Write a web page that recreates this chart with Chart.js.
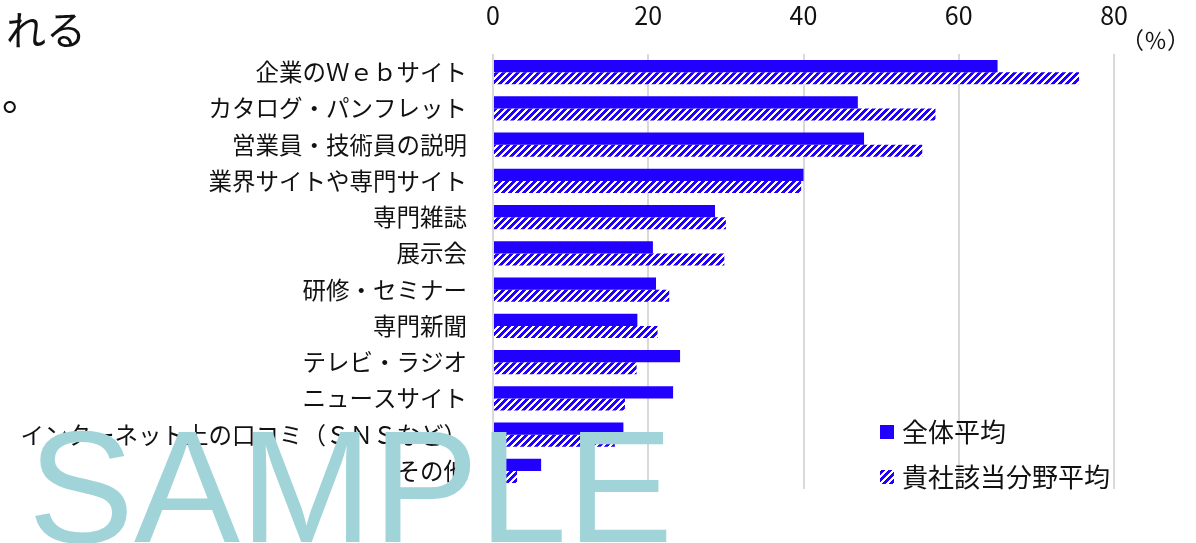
<!DOCTYPE html>
<html lang="ja">
<head>
<meta charset="utf-8">
<script src="https://cdn.jsdelivr.net/npm/chart.js@4"></script>
<style>
  body { margin: 0; background: #fff; }
  #wrap { position: relative; width: 1196px; height: 543px; }
</style>
</head>
<body>
<div id="wrap"><canvas id="media-chart"></canvas></div>
<script>
/***** Data *****/
const categories = [
  "企業のＷｅｂサイト",
  "カタログ・パンフレット",
  "営業員・技術員の説明",
  "業界サイトや専門サイト",
  "専門雑誌",
  "展示会",
  "研修・セミナー",
  "専門新聞",
  "テレビ・ラジオ",
  "ニュースサイト",
  "インターネット上の口コミ（ＳＮＳなど）",
  "その他",
];
const seriesNames = ["全体平均", "貴社該当分野平均"];
const allAverage = [65, 47, 47.8, 40, 28.6, 20.6, 21, 18.6, 24.1, 23.2, 16.8, 6.2];
const fieldAverage = [75.5, 57, 55.3, 39.7, 30, 29.8, 22.7, 21.2, 18.5, 17, 15.7, 3.1];
const xTicks = [0, 20, 40, 60, 80];

const BLUE = "#2100ff";
const FONT = "'Noto Sans CJK JP', 'Noto Sans', sans-serif";

/***** Helpers *****/
// Pixel diagonal stripe pattern ("/") for the second series
const makeHatch = () => {
  const size = 7;
  const c = document.createElement("canvas");
  c.width = size;
  c.height = size;
  const ctx = c.getContext("2d");
  ctx.fillStyle = "#fff";
  ctx.fillRect(0, 0, size, size);
  ctx.fillStyle = BLUE;
  for (let y = 0; y < size; y++) {
    for (let x = 0; x < size; x++) {
      if ((x + y) % size < 4) ctx.fillRect(x, y, 1, 1);
    }
  }
  return ctx.createPattern(c, "repeat");
};
const hatch = makeHatch();

// Legend, page text and the watermark drawn on top of the chart
const extrasPlugin = {
  id: "extras",
  afterDraw: (chart) => {
    const ctx = chart.ctx;
    ctx.save();
    ctx.fillStyle = "#111";
    ctx.textBaseline = "middle";
    ctx.textAlign = "left";
    ctx.font = "40px " + FONT;
    ctx.fillText("れる", 6, 30);
    ctx.fillText("。", 2, 95);
    ctx.font = "23px " + FONT;
    ctx.fillText("（％）", 1121, 40);

    // legend
    const fills = [BLUE, hatch];
    const ys = [432, 477];
    ctx.font = "26px " + FONT;
    seriesNames.forEach((name, i) => {
      ctx.fillStyle = fills[i];
      ctx.fillRect(880, ys[i] - 7, 14, 14);
      ctx.fillStyle = "#111";
      ctx.fillText(name, 902, ys[i]);
    });

    // watermark
    ctx.fillStyle = "#a1d4d8";
    ctx.textBaseline = "alphabetic";
    ctx.font = "159px 'Liberation Sans', Arial, sans-serif";
    ctx.fillText("SAMPLE", 28, 542);
    ctx.restore();
  },
};

/***** Chart *****/
new Chart(document.querySelector("#media-chart"), {
  type: "bar",
  data: {
    labels: categories,
    datasets: [
      {
        label: seriesNames[0],
        data: allAverage,
        backgroundColor: BLUE,
        categoryPercentage: 0.67,
        barPercentage: 1,
      },
      {
        label: seriesNames[1],
        data: fieldAverage,
        backgroundColor: hatch,
        categoryPercentage: 0.67,
        barPercentage: 1,
      },
    ],
  },
  options: {
    indexAxis: "y",
    responsive: true,
    maintainAspectRatio: false,
    animation: false,
    layout: { padding: { top: 0, left: 0, right: 82, bottom: 54 } },
    plugins: { legend: { display: false }, tooltip: { enabled: false } },
    scales: {
      x: {
        position: "top",
        min: 0,
        max: 80,
        afterBuildTicks: (scale) => {
          scale.ticks = xTicks.map((v) => ({ value: v }));
        },
        afterFit: (scale) => {
          scale.height = 54;
        },
        grid: { color: "#d9d9d9", lineWidth: 2, drawTicks: false },
        border: { display: false },
        ticks: {
          padding: 24,
          color: "#111",
          font: { family: FONT, size: 25 },
        },
      },
      y: {
        afterFit: (scale) => {
          scale.width = 493;
        },
        grid: { display: false, drawTicks: false },
        border: { display: false },
        ticks: {
          padding: 26,
          autoSkip: false,
          color: "#111",
          font: { family: FONT, size: 23.5 },
        },
      },
    },
  },
  plugins: [extrasPlugin],
});
</script>
</body>
</html>
